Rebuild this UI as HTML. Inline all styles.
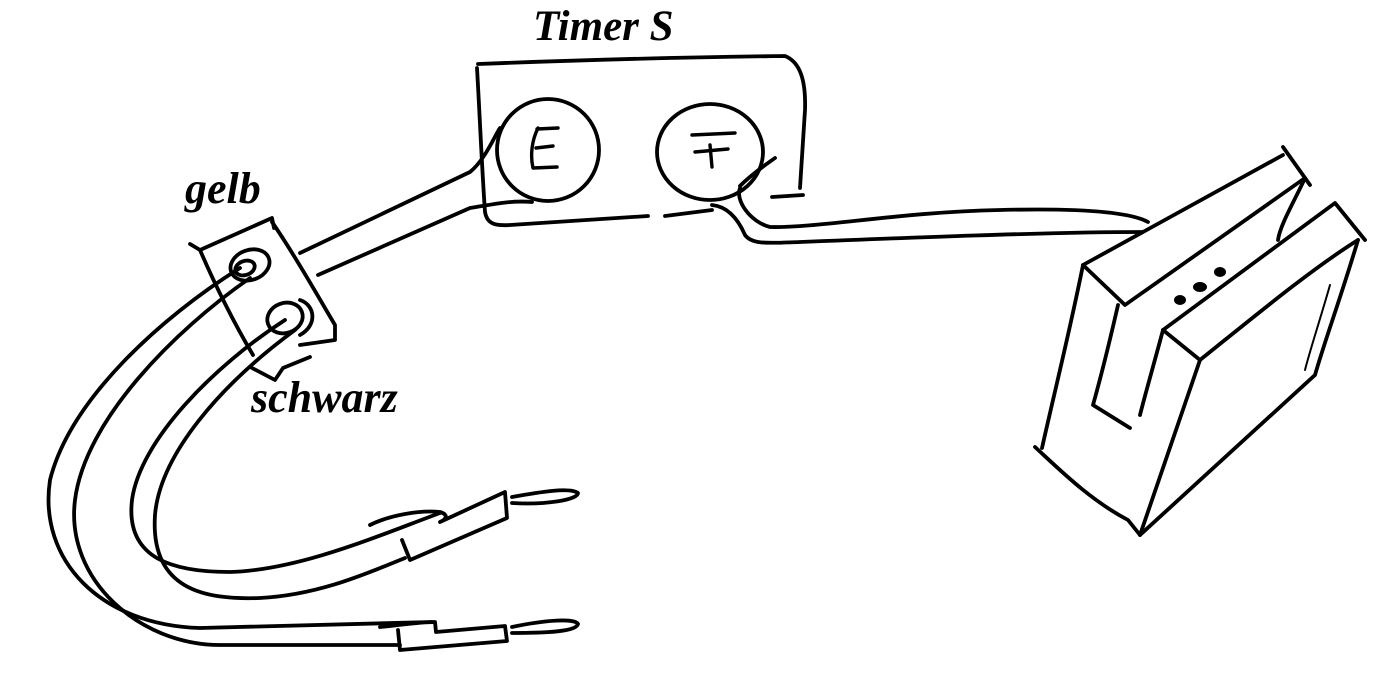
<!DOCTYPE html>
<html><head><meta charset="utf-8"><style>
html,body{margin:0;padding:0;background:#fff;}
svg{display:block;}
text{font-family:"Liberation Serif",serif;font-weight:bold;font-style:italic;fill:#000;}
</style></head><body>
<svg width="1400" height="682" viewBox="0 0 1400 682" xmlns="http://www.w3.org/2000/svg">
<g fill="none" stroke="#000" stroke-width="3.8" stroke-linecap="round" stroke-linejoin="round">
<!-- timer box -->
<path d="M478,64 C580,60 700,57 785,56 C800,62 806,80 805,110 L800,188"/>
<path d="M477,68 C480,120 482,170 485,212 C487,224 495,226 510,225 L648,216"/>
<path d="M665,216 L712,210"/>
<path d="M772,197 L803,195"/>
<ellipse cx="548" cy="150" rx="51" ry="51"/>
<ellipse cx="710" cy="152" rx="53" ry="48"/>
<path d="M538,128 C532,140 530,155 533,168 L557,167 M536,148 L553,146 M537,129 L558,128" stroke-width="3.4"/>
<path d="M692,135 L735,133 M695,152 L728,149 M710,145 L712,167" stroke-width="3.4"/>
<!-- cables from E -->
<path d="M500,128 C495,135 485,160 470,172 L300,253"/>
<path d="M532,202 C510,200 490,205 470,208 L318,275"/>
<!-- cable from F -->
<path d="M712,205 C722,206 735,212 745,235 C752,245 770,243 800,242 C900,238 1050,232 1142,232"/>
<path d="M740,186 C750,176 765,165 775,158"/>
<path d="M740,188 C735,200 750,222 770,227 C820,228 900,212 1000,210 C1080,208 1130,212 1148,222"/>
<!-- connector block -->
<path d="M190,244 L200,250 L272,218 L274,228"/>
<path d="M200,250 C215,285 235,325 253,355"/>
<path d="M272,222 C295,255 320,300 335,325 L335,340 L300,345"/>
<path d="M252,368 L275,380 L283,368 L310,357"/>
<ellipse cx="250" cy="265" rx="20" ry="15" transform="rotate(-20 250 265)"/>
<ellipse cx="245" cy="268" rx="10" ry="7" transform="rotate(-20 245 268)"/>
<ellipse cx="285" cy="318" rx="18" ry="15" transform="rotate(-20 285 318)"/>
<path d="M300,300 C315,305 318,325 300,335"/>
<!-- wires -->
<path d="M240,268 C160,318 70,400 50,480 C38,560 100,625 200,628 L432,622"/>
<path d="M250,278 C175,330 85,420 75,500 C65,580 140,645 220,645 L400,645"/>
<path d="M285,320 C215,365 140,440 132,500 C125,560 175,572 230,572 C300,570 380,535 440,513"/>
<path d="M295,330 C220,385 160,455 155,515 C150,590 205,600 260,598 C320,595 370,572 405,558"/>
<!-- top plug -->
<path d="M370,525 C390,515 420,510 440,512 C450,515 445,520 440,522 L505,492 L507,518 L410,560 L402,540"/>
<path d="M512,497 C540,492 570,487 578,493 C578,500 545,505 512,503"/>
<!-- bottom plug -->
<path d="M380,627 C400,625 420,622 435,622 L436,632 L505,626 L507,641 L400,650 L398,630"/>
<path d="M512,627 C545,620 575,618 578,624 C576,632 545,633 512,633"/>
<!-- device -->
<path d="M1083,265 L1283,155 M1125,305 L1305,178 M1283,147 L1310,185 M1083,265 L1125,305"/>
<path d="M1305,178 C1295,200 1280,225 1278,240"/>
<path d="M1083,265 C1070,330 1055,390 1042,448"/>
<path d="M1035,447 C1060,470 1090,500 1128,520 L1140,535"/>
<path d="M1118,305 C1110,340 1100,380 1093,405 L1130,428"/>
<path d="M1163,330 C1155,360 1145,395 1140,415"/>
<path d="M1163,330 L1200,360 L1140,535"/>
<path d="M1163,330 L1335,203 L1365,240"/>
<path d="M1200,360 C1250,320 1310,270 1358,240"/>
<path d="M1358,240 C1340,300 1325,340 1315,375 L1140,535"/>
<path d="M1330,285 C1320,320 1310,350 1305,370" stroke-width="2"/>
</g>
<g fill="#000">
<ellipse cx="1180" cy="300" rx="6" ry="5"/>
<ellipse cx="1200" cy="287" rx="7" ry="5"/>
<ellipse cx="1220" cy="272" rx="6" ry="5"/>
</g>
<text x="533" y="40" font-size="43">Timer S</text>
<text x="185" y="203" font-size="44">gelb</text>
<text x="251" y="412" font-size="44">schwarz</text>
</svg>
</body></html>
